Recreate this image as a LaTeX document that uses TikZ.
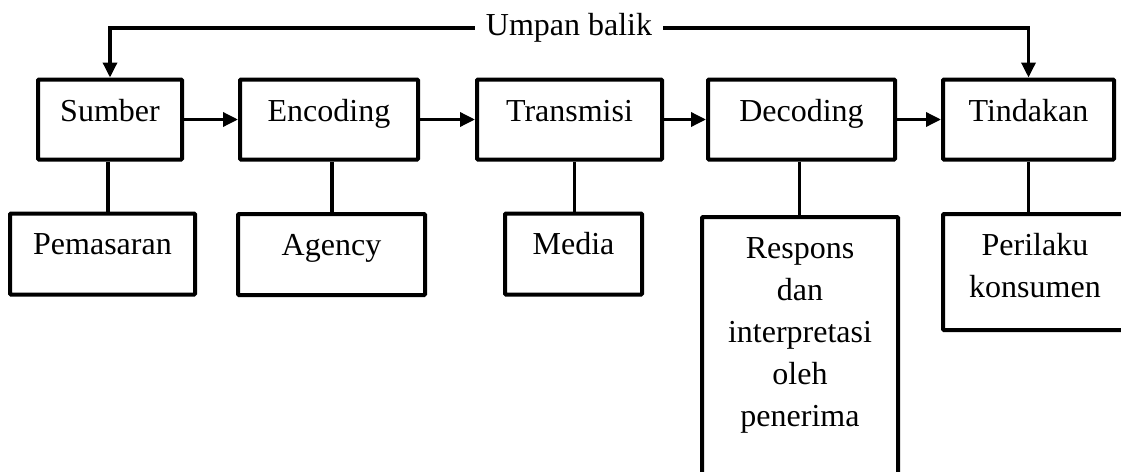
\documentclass[tikz,border=0pt]{standalone}
\usepackage{fontspec}
\setmainfont{Liberation Serif}
\usetikzlibrary{arrows.meta}
\newcommand\stacklines[1]{\vtop{\baselineskip=42pt\lineskiplimit=-100pt\halign{\hfil##\hfil\cr#1\crcr}}}
\begin{document}
\begin{tikzpicture}[x=1pt,y=-1pt,
  box/.style={draw, line width=4pt, rounded corners=1pt, inner sep=0pt, anchor=north, font=\fontsize{32}{42}\selectfont},
  topbox/.style={minimum height=80pt, text height=42pt, text depth=38pt},
  lowbox/.style={minimum height=81pt, text height=41pt, text depth=40pt},
  conn/.style={line width=3.4pt},
  arr/.style={line width=3.4pt, -{Triangle[length=15pt,width=14pt]}},
  ]
\useasboundingbox (0,0) rectangle (1121,471);
\clip (0,0) rectangle (1121,471);

\node[box,topbox,minimum width=144pt] (sumber) at (110,77.5) {Sumber};
\node[box,topbox,minimum width=178pt] (encoding) at (329,77.5) {Encoding};
\node[box,topbox,minimum width=185pt] (transmisi) at (569.5,77.5) {Transmisi};
\node[box,topbox,minimum width=187pt] (decoding) at (801.5,77.5) {Decoding};
\node[box,topbox,minimum width=171pt] (tindakan) at (1028.5,77.5) {Tindakan};

\node[box,lowbox,minimum width=185pt] (pemasaran) at (102.5,211.5) {Pemasaran};
\node[box,lowbox,minimum width=187pt] (agency) at (331.5,212) {Agency};
\node[box,lowbox,minimum width=137pt] (media) at (573.5,211.5) {Media};
\node[box,text height=41pt,text depth=300pt,minimum width=196pt] (respons) at (800,215)
  {\stacklines{Respons\cr dan\cr interpretasi\cr oleh\cr penerima}};
\node[box,text height=41pt,text depth=75pt,minimum width=184pt] (perilaku) at (1035,212)
  {\stacklines{Perilaku\cr konsumen}};

\draw[arr] (sumber) -- (encoding);
\draw[arr] (encoding) -- (transmisi);
\draw[arr] (transmisi) -- (decoding);
\draw[arr] (decoding) -- (tindakan);

\coordinate (sm) at ([xshift=-2pt]sumber.south);
\coordinate (em) at ([xshift=3pt]encoding.south);
\coordinate (tm) at ([xshift=5pt]transmisi.south);
\coordinate (dm) at ([xshift=-2pt]decoding.south);
\coordinate (km) at (tindakan.south);
\draw[conn] (sm) -- (sm |- pemasaran.north);
\draw[conn] (em) -- (em |- agency.north);
\draw[conn] (tm) -- (tm |- media.north);
\draw[conn] (dm) -- (dm |- respons.north);
\draw[conn] (km) -- (km |- perilaku.north);

\node[fill=white, font=\fontsize{32}{42}\selectfont, inner xsep=11pt, inner ysep=0pt,
      text height=17pt, text depth=3pt] (fb) at (569,28) {Umpan balik};
\draw[arr] (fb.west) -| (sumber.north);
\draw[arr] (fb.east) -| (tindakan.north);
\end{tikzpicture}
\end{document}
